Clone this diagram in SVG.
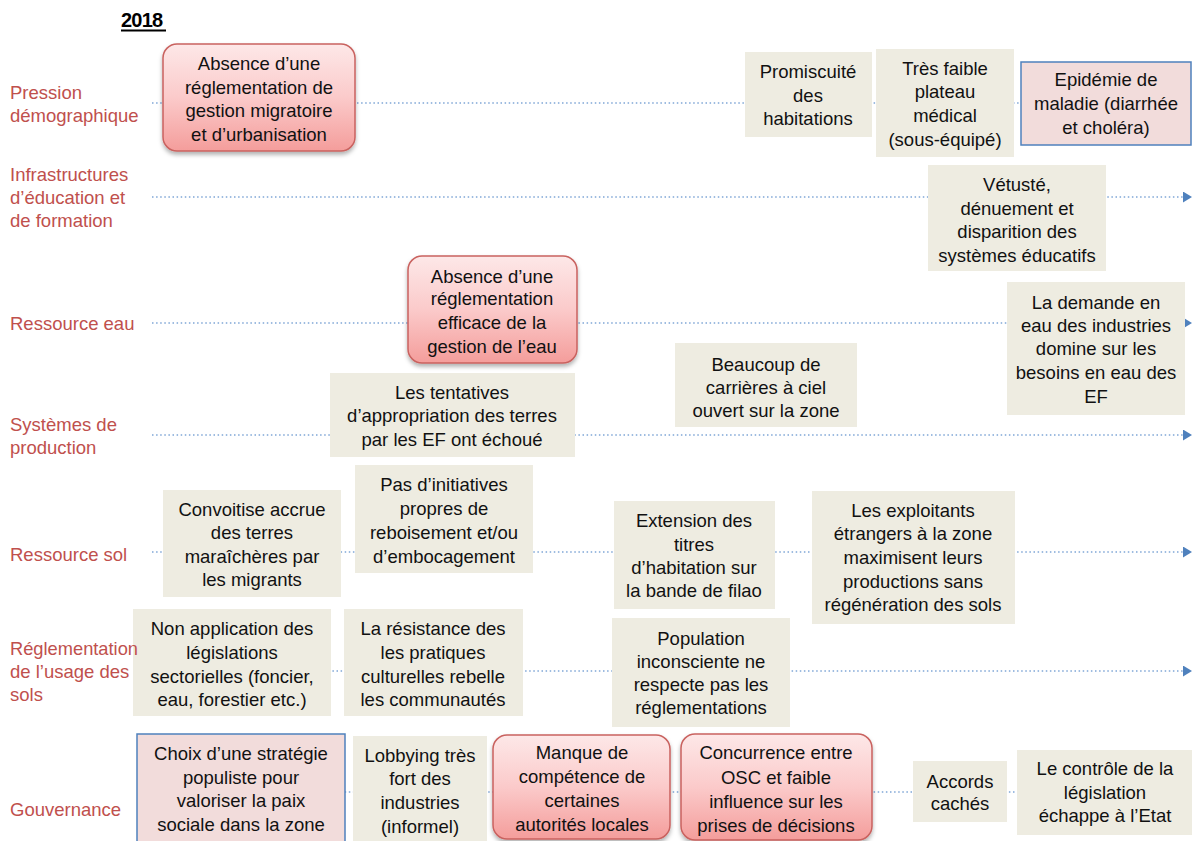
<svg xmlns="http://www.w3.org/2000/svg" width="1192" height="841" viewBox="0 0 1192 841">
<defs>
<linearGradient id="pinkGrad" x1="0" y1="0" x2="0" y2="1">
<stop offset="0" stop-color="#fde8e8"/>
<stop offset="0.5" stop-color="#fbcaca"/>
<stop offset="1" stop-color="#f49d9b"/>
</linearGradient>
<filter id="shadow" x="-10%" y="-10%" width="125%" height="130%">
<feDropShadow dx="0" dy="3" stdDeviation="2" flood-color="#000" flood-opacity="0.3"/>
</filter>
<marker id="arrow" markerUnits="userSpaceOnUse" markerWidth="10" markerHeight="12" refX="0" refY="5.5" orient="auto">
<path d="M0,0 L9,5.5 L0,11 z" fill="#4f81bd"/>
</marker>
</defs>
<style>
.lbl{font-family:"Liberation Sans",Arial,sans-serif;font-size:18.5px;fill:#c0504d}
.t{font-family:"Liberation Sans",Arial,sans-serif;font-size:18.5px;fill:#111;text-anchor:middle}
.beige{fill:#eeece1}
.pink{fill:url(#pinkGrad);stroke:#c9625f;stroke-width:1.5;filter:url(#shadow)}
.prect{fill:#f2dcdb;stroke:#4f81bd;stroke-width:1.5}
.dot{stroke:#7fa6d6;stroke-width:1.5;stroke-dasharray:1.5 2.6;fill:none}
</style>
<rect width="1192" height="841" fill="#fff"/>

<g id="title">
<text x="121" y="27" font-family="Liberation Sans, Arial, sans-serif" font-size="20" font-weight="bold" letter-spacing="-0.8" fill="#000">2018</text>
<line x1="121" y1="30.5" x2="166" y2="30.5" stroke="#000" stroke-width="2"/>
</g>

<g id="connectors">
<line class="dot" x1="152" y1="103" x2="1100" y2="103"/>
<line class="dot" x1="152" y1="197" x2="1183" y2="197" marker-end="url(#arrow)"/>
<line class="dot" x1="152" y1="323" x2="1183" y2="323" marker-end="url(#arrow)"/>
<line class="dot" x1="152" y1="435" x2="1183" y2="435" marker-end="url(#arrow)"/>
<line class="dot" x1="152" y1="552" x2="1183" y2="552" marker-end="url(#arrow)"/>
<line class="dot" x1="152" y1="671" x2="1183" y2="671" marker-end="url(#arrow)"/>
<line class="dot" x1="152" y1="792" x2="1100" y2="792"/>
</g>

<g id="n1">
<rect class="pink" x="163" y="44" width="192" height="107" rx="14"/>
<text class="t" x="259" y="70">Absence d’une</text>
<text class="t" x="259" y="94">réglementation de</text>
<text class="t" x="259" y="117">gestion migratoire</text>
<text class="t" x="259" y="141">et d’urbanisation</text>
</g>
<g id="n2">
<rect class="beige" x="745" y="52" width="127" height="85"/>
<text class="t" x="808" y="78">Promiscuité</text>
<text class="t" x="808" y="102">des</text>
<text class="t" x="808" y="125">habitations</text>
</g>
<g id="n3">
<rect class="beige" x="876" y="49" width="138" height="108"/>
<text class="t" x="945" y="75">Très faible</text>
<text class="t" x="945" y="98">plateau</text>
<text class="t" x="945" y="122">médical</text>
<text class="t" x="945" y="146">(sous-équipé)</text>
</g>
<g id="n4">
<rect class="prect" x="1021" y="62" width="170" height="83"/>
<text class="t" x="1106" y="86">Epidémie de</text>
<text class="t" x="1106" y="110">maladie (diarrhée</text>
<text class="t" x="1106" y="134">et choléra)</text>
</g>
<g id="n5">
<rect class="beige" x="928" y="165" width="178" height="106"/>
<text class="t" x="1017" y="191">Vétusté,</text>
<text class="t" x="1017" y="215">dénuement et</text>
<text class="t" x="1017" y="238">disparition des</text>
<text class="t" x="1017" y="262">systèmes éducatifs</text>
</g>
<g id="n6">
<rect class="beige" x="1007" y="282" width="178" height="133"/>
<text class="t" x="1096" y="309">La demande en</text>
<text class="t" x="1096" y="332">eau des industries</text>
<text class="t" x="1096" y="355">domine sur les</text>
<text class="t" x="1096" y="379">besoins en eau des</text>
<text class="t" x="1096" y="403">EF</text>
</g>
<g id="n7">
<rect class="pink" x="408" y="256" width="169" height="107" rx="14"/>
<text class="t" x="492" y="283">Absence d’une</text>
<text class="t" x="492" y="305">réglementation</text>
<text class="t" x="492" y="329">efficace de la</text>
<text class="t" x="492" y="353">gestion de l’eau</text>
</g>
<g id="n8">
<rect class="beige" x="330" y="373" width="245" height="84"/>
<text class="t" x="452" y="399">Les tentatives</text>
<text class="t" x="452" y="422">d’appropriation des terres</text>
<text class="t" x="452" y="446">par les EF ont échoué</text>
</g>
<g id="n9">
<rect class="beige" x="675" y="343" width="182" height="84"/>
<text class="t" x="766" y="371">Beaucoup de</text>
<text class="t" x="766" y="394">carrières à ciel</text>
<text class="t" x="766" y="417">ouvert sur la zone</text>
</g>
<g id="n10">
<rect class="beige" x="355" y="465" width="178" height="108"/>
<text class="t" x="444" y="491">Pas d’initiatives</text>
<text class="t" x="444" y="515">propres de</text>
<text class="t" x="444" y="539">reboisement et/ou</text>
<text class="t" x="444" y="563">d’embocagement</text>
</g>
<g id="n11">
<rect class="beige" x="163" y="490" width="178" height="107"/>
<text class="t" x="252" y="516">Convoitise accrue</text>
<text class="t" x="252" y="539">des terres</text>
<text class="t" x="252" y="563">maraîchères par</text>
<text class="t" x="252" y="586">les migrants</text>
</g>
<g id="n12">
<rect class="beige" x="614" y="501" width="161" height="108"/>
<text class="t" x="694" y="527">Extension des</text>
<text class="t" x="694" y="551">titres</text>
<text class="t" x="694" y="574">d’habitation sur</text>
<text class="t" x="694" y="597">la bande de filao</text>
</g>
<g id="n13">
<rect class="beige" x="812" y="491" width="203" height="133"/>
<text class="t" x="913" y="517">Les exploitants</text>
<text class="t" x="913" y="540">étrangers à la zone</text>
<text class="t" x="913" y="564">maximisent leurs</text>
<text class="t" x="913" y="588">productions sans</text>
<text class="t" x="913" y="611">régénération des sols</text>
</g>
<g id="n14">
<rect class="beige" x="133" y="609" width="198" height="107"/>
<text class="t" x="232" y="635">Non application des</text>
<text class="t" x="232" y="659">législations</text>
<text class="t" x="232" y="683">sectorielles (foncier,</text>
<text class="t" x="232" y="706">eau, forestier etc.)</text>
</g>
<g id="n15">
<rect class="beige" x="344" y="609" width="179" height="107"/>
<text class="t" x="433" y="635">La résistance des</text>
<text class="t" x="433" y="659">les pratiques</text>
<text class="t" x="433" y="683">culturelles rebelle</text>
<text class="t" x="433" y="706">les communautés</text>
</g>
<g id="n16">
<rect class="beige" x="612" y="618" width="178" height="109"/>
<text class="t" x="701" y="645">Population</text>
<text class="t" x="701" y="668">inconsciente ne</text>
<text class="t" x="701" y="691">respecte pas les</text>
<text class="t" x="701" y="714">réglementations</text>
</g>
<g id="n17">
<rect class="prect" x="137" y="734" width="208" height="112"/>
<text class="t" x="241" y="760">Choix d’une stratégie</text>
<text class="t" x="241" y="784">populiste pour</text>
<text class="t" x="241" y="807">valoriser la paix</text>
<text class="t" x="241" y="831">sociale dans la zone</text>
</g>
<g id="n18">
<rect class="beige" x="353" y="736" width="134" height="108"/>
<text class="t" x="420" y="762">Lobbying très</text>
<text class="t" x="420" y="785">fort des</text>
<text class="t" x="420" y="809">industries</text>
<text class="t" x="420" y="833">(informel)</text>
</g>
<g id="n19">
<rect class="pink" x="493" y="735" width="177" height="104" rx="14"/>
<text class="t" x="582" y="759">Manque de</text>
<text class="t" x="582" y="783">compétence de</text>
<text class="t" x="582" y="807">certaines</text>
<text class="t" x="582" y="831">autorités locales</text>
</g>
<g id="n20">
<rect class="pink" x="681" y="734" width="191" height="106" rx="14"/>
<text class="t" x="776" y="759">Concurrence entre</text>
<text class="t" x="776" y="784">OSC et faible</text>
<text class="t" x="776" y="808">influence sur les</text>
<text class="t" x="776" y="832">prises de décisions</text>
</g>
<g id="n21">
<rect class="beige" x="913" y="761" width="94" height="61"/>
<text class="t" x="960" y="788">Accords</text>
<text class="t" x="960" y="810">cachés</text>
</g>
<g id="n22">
<rect class="beige" x="1017" y="750" width="175" height="85"/>
<text class="t" x="1105" y="775">Le contrôle de la</text>
<text class="t" x="1105" y="799">législation</text>
<text class="t" x="1105" y="822">échappe à l’Etat</text>
</g>

<g id="labels">
<text class="lbl" x="10" y="99">Pression</text>
<text class="lbl" x="10" y="122">démographique</text>
<text class="lbl" x="10" y="181">Infrastructures</text>
<text class="lbl" x="10" y="204">d’éducation et</text>
<text class="lbl" x="10" y="227">de formation</text>
<text class="lbl" x="10" y="330">Ressource eau</text>
<text class="lbl" x="10" y="431">Systèmes de</text>
<text class="lbl" x="10" y="454">production</text>
<text class="lbl" x="10" y="561">Ressource sol</text>
<text class="lbl" x="10" y="655" textLength="128" lengthAdjust="spacingAndGlyphs">Réglementation</text>
<text class="lbl" x="10" y="678">de l’usage des</text>
<text class="lbl" x="10" y="701">sols</text>
<text class="lbl" x="10" y="816">Gouvernance</text>
</g>
</svg>
